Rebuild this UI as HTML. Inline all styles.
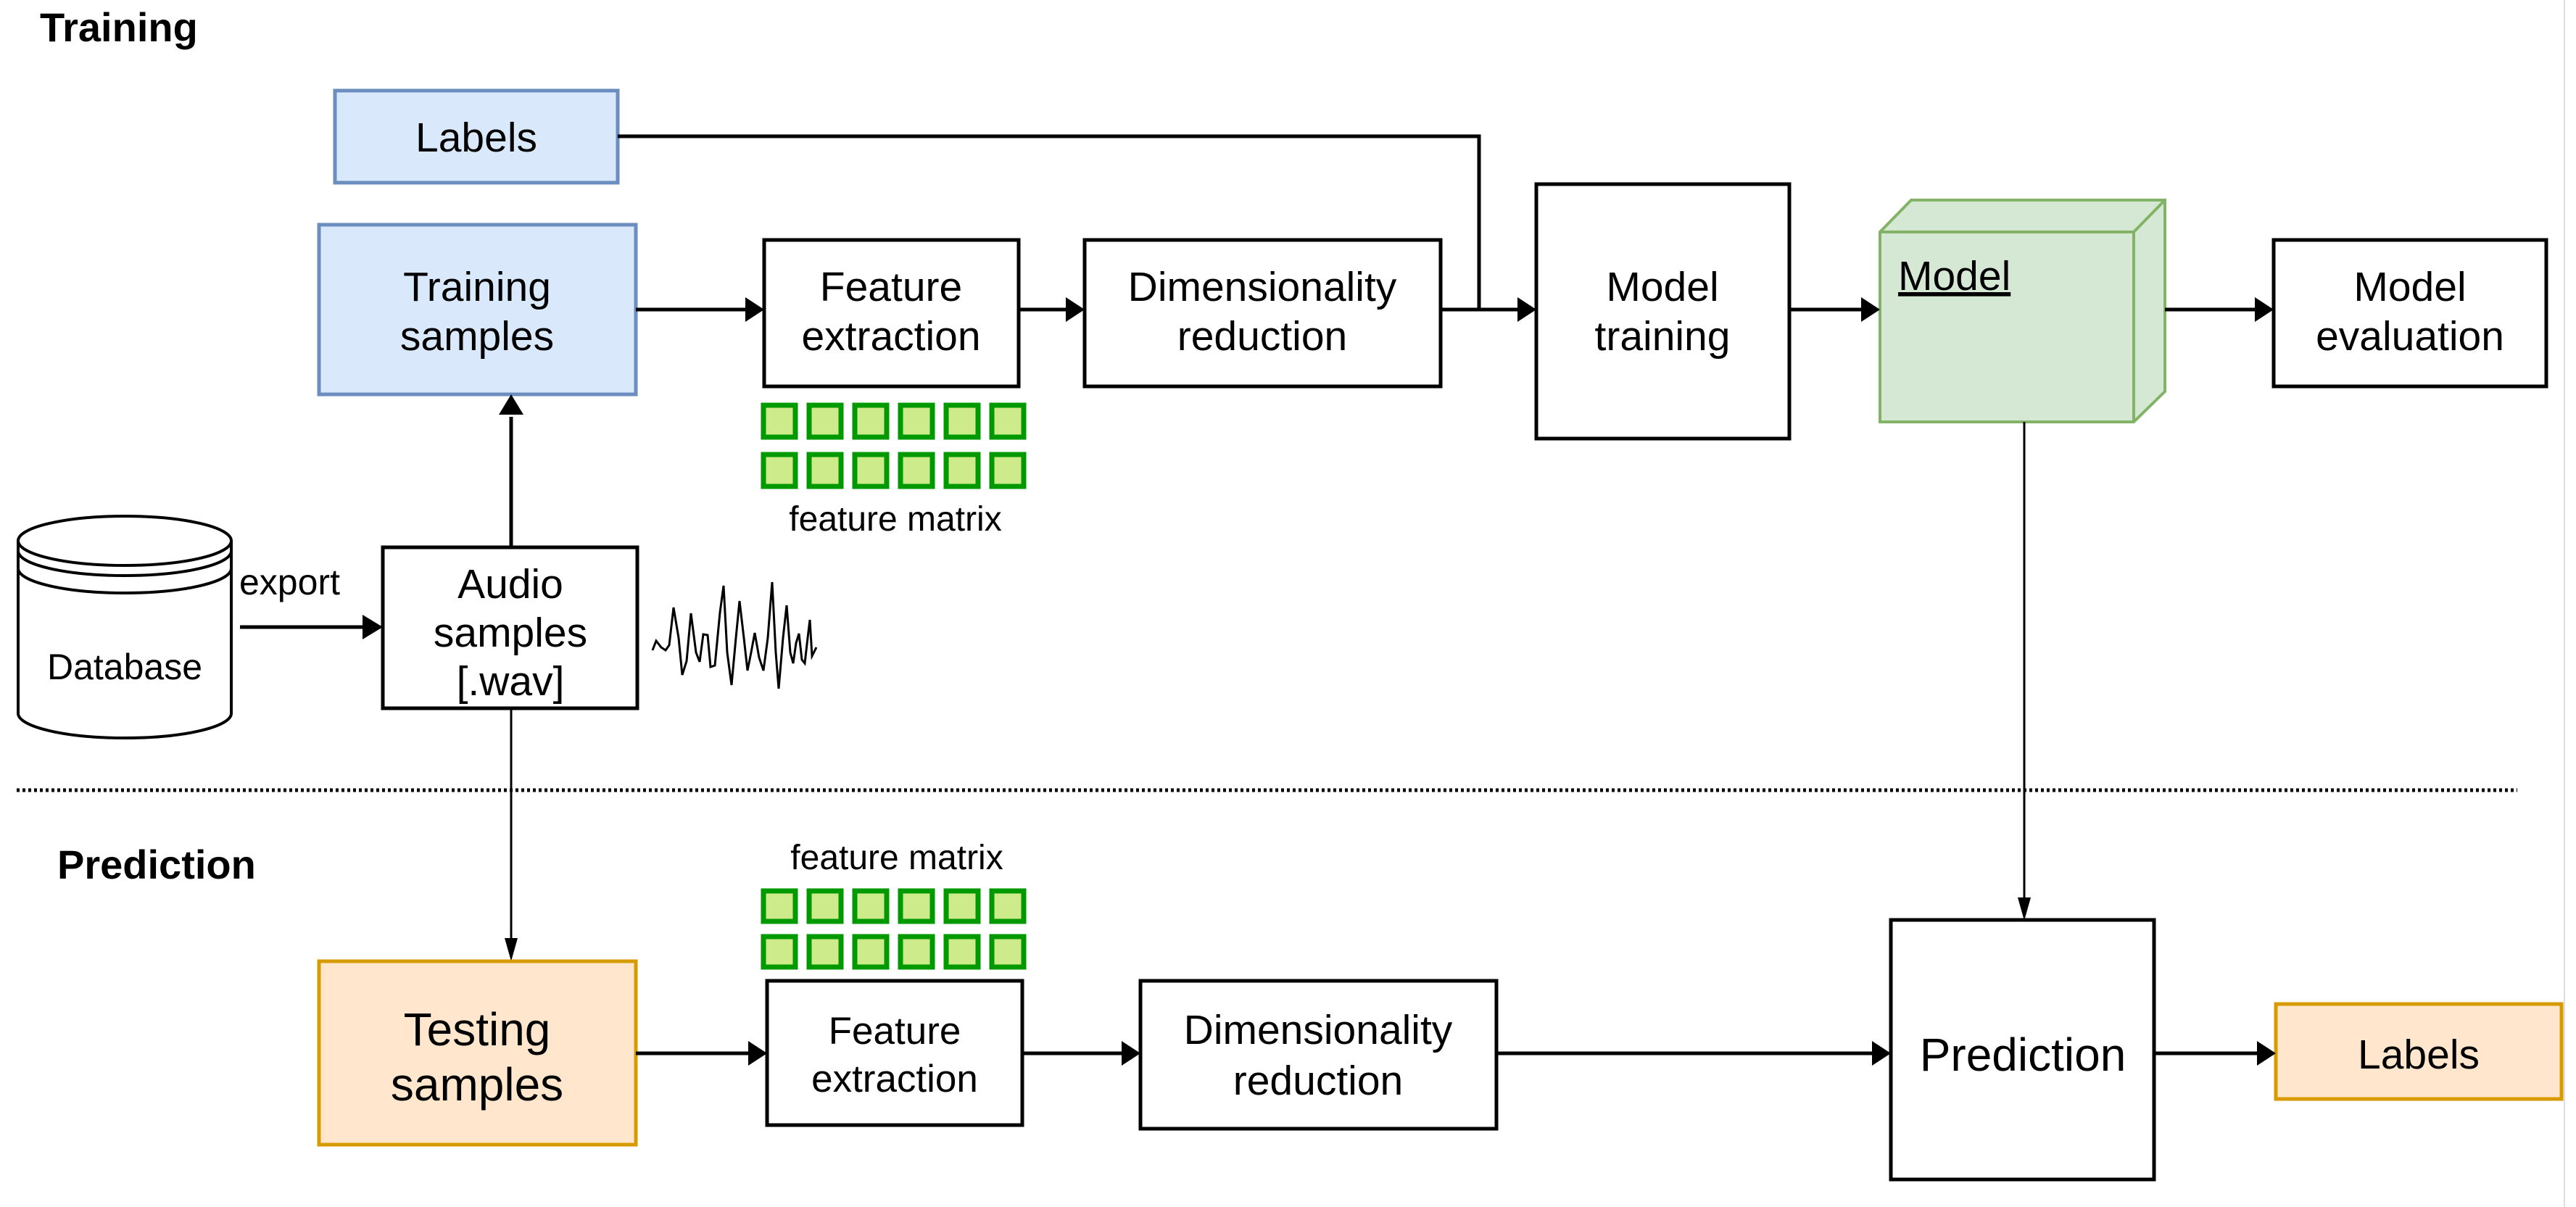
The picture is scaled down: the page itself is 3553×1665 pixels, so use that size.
<!DOCTYPE html>
<html><head><meta charset="utf-8"><style>
html,body{margin:0;padding:0;background:#fff;}
svg{display:block;}
text{font-family:"Liberation Sans",Arial,sans-serif;fill:#000;}
</style></head><body>
<svg width="3553" height="1665" viewBox="0 0 3553 1665" xmlns="http://www.w3.org/2000/svg">
<rect width="3553" height="1665" fill="#fff"/>
<line x1="3537" y1="0" x2="3537" y2="1665" stroke="#ddd" stroke-width="2"/>

<!-- titles -->
<text x="55" y="57" font-size="56" font-weight="bold">Training</text>
<text x="79" y="1212" font-size="56" font-weight="bold">Prediction</text>

<!-- Labels top -->
<rect x="462" y="125" width="390" height="127" fill="#dae8fc" stroke="#6c8ebf" stroke-width="5"/>
<text x="657" y="209" font-size="57" text-anchor="middle">Labels</text>

<!-- Training samples -->
<rect x="440" y="310" width="437" height="234" fill="#dae8fc" stroke="#6c8ebf" stroke-width="5"/>
<text x="658" y="415" font-size="57" text-anchor="middle">Training</text>
<text x="658" y="483" font-size="57" text-anchor="middle">samples</text>

<!-- Feature extraction top -->
<rect x="1054" y="331" width="351" height="202" fill="#fff" stroke="#000" stroke-width="5"/>
<text x="1229" y="415" font-size="57" text-anchor="middle">Feature</text>
<text x="1229" y="483" font-size="57" text-anchor="middle">extraction</text>

<!-- Dim red top -->
<rect x="1496" y="331" width="491" height="202" fill="#fff" stroke="#000" stroke-width="5"/>
<text x="1741" y="415" font-size="57" text-anchor="middle">Dimensionality</text>
<text x="1741" y="483" font-size="57" text-anchor="middle">reduction</text>

<!-- Model training -->
<rect x="2119" y="254" width="349" height="351" fill="#fff" stroke="#000" stroke-width="5"/>
<text x="2293" y="415" font-size="57" text-anchor="middle">Model</text>
<text x="2293" y="483" font-size="57" text-anchor="middle">training</text>

<!-- Model cube -->
<polygon points="2593,320 2636,276 2986,276 2986,540 2943,582 2593,582" fill="#d5e8d4" stroke="#82b366" stroke-width="4"/>
<polyline points="2593,320 2943,320 2986,276" fill="none" stroke="#82b366" stroke-width="4"/>
<line x1="2943" y1="320" x2="2943" y2="582" stroke="#82b366" stroke-width="4"/>
<text x="2618" y="400" font-size="57" text-decoration="underline">Model</text>

<!-- Model evaluation -->
<rect x="3136" y="331" width="376" height="202" fill="#fff" stroke="#000" stroke-width="5"/>
<text x="3324" y="415" font-size="57" text-anchor="middle">Model</text>
<text x="3324" y="483" font-size="57" text-anchor="middle">evaluation</text>

<!-- top arrows -->
<g stroke="#000" stroke-width="5" fill="none">
<line x1="877" y1="427" x2="1030" y2="427"/>
<line x1="1405" y1="427" x2="1472" y2="427"/>
<line x1="1987" y1="427" x2="2095" y2="427"/>
<polyline points="852,188 2040,188 2040,427"/>
<line x1="2468" y1="427" x2="2569" y2="427"/>
<line x1="2986" y1="427" x2="3112" y2="427"/>
<line x1="705" y1="755" x2="705" y2="575"/>
<line x1="331" y1="865" x2="505" y2="865"/>
</g>
<g fill="#000">
<polygon points="1054,427 1028,410 1028,444"/>
<polygon points="1496,427 1470,410 1470,444"/>
<polygon points="2119,427 2093,410 2093,444"/>
<polygon points="2593,427 2567,410 2567,444"/>
<polygon points="3136,427 3110,410 3110,444"/>
<polygon points="705,544 688,572 722,572"/>
<polygon points="528,865 500,848 500,882"/>
</g>

<!-- feature matrix top -->
<g fill="#cdeb8b" stroke="#009900" stroke-width="7">
<rect x="1053" y="559" width="44" height="44"/><rect x="1116" y="559" width="44" height="44"/><rect x="1179" y="559" width="44" height="44"/><rect x="1242" y="559" width="44" height="44"/><rect x="1305" y="559" width="44" height="44"/><rect x="1368" y="559" width="44" height="44"/>
<rect x="1053" y="627" width="44" height="44"/><rect x="1116" y="627" width="44" height="44"/><rect x="1179" y="627" width="44" height="44"/><rect x="1242" y="627" width="44" height="44"/><rect x="1305" y="627" width="44" height="44"/><rect x="1368" y="627" width="44" height="44"/>
</g>
<text x="1235" y="732" font-size="48" text-anchor="middle">feature matrix</text>

<!-- Database -->
<g fill="#fff" stroke="#000" stroke-width="4">
<path d="M25,746 L25,984 A147,34 0 0 0 319,984 L319,746"/>
<ellipse cx="172" cy="746" rx="147" ry="34"/>
<path d="M25,760 A147,34 0 0 0 319,760" fill="none"/>
<path d="M25,784 A147,34 0 0 0 319,784" fill="none"/>
</g>
<text x="172" y="937" font-size="50" text-anchor="middle">Database</text>
<text x="330" y="820" font-size="50">export</text>

<!-- Audio samples -->
<rect x="528" y="755" width="351" height="222" fill="#fff" stroke="#000" stroke-width="5"/>
<text x="704" y="825" font-size="57" text-anchor="middle">Audio</text>
<text x="704" y="892" font-size="57" text-anchor="middle">samples</text>
<text x="704" y="959" font-size="57" text-anchor="middle">[.wav]</text>

<!-- waveform -->
<polyline fill="none" stroke="#000" stroke-width="3" points="900,897 905,884 912,893 918,897 923,890 929,838 936,880 941,931 947,912 953,846 960,900 965,913 970,875 976,876 980,920 986,918 993,845 998,808 1003,900 1009,945 1015,880 1020,829 1026,880 1031,925 1036,900 1041,873 1047,907 1053,925 1059,880 1065,803 1070,900 1074,950 1080,880 1085,835 1090,900 1094,915 1098,887 1102,874 1106,910 1110,915 1114,880 1117,855 1120,905 1126,893"/>

<!-- dashed divider -->
<line x1="23" y1="1090" x2="3472" y2="1090" stroke="#000" stroke-width="5" stroke-dasharray="4,4"/>

<!-- vertical lines -->
<line x1="705" y1="977" x2="705" y2="1300" stroke="#000" stroke-width="3"/>
<polygon points="705,1326 696,1294 714,1294" fill="#000"/>
<line x1="2792" y1="582" x2="2792" y2="1245" stroke="#000" stroke-width="3"/>
<polygon points="2792,1270 2783,1238 2801,1238" fill="#000"/>

<!-- feature matrix bottom -->
<text x="1237" y="1199" font-size="48" text-anchor="middle">feature matrix</text>
<g fill="#cdeb8b" stroke="#009900" stroke-width="7">
<rect x="1053" y="1229" width="44" height="42"/><rect x="1116" y="1229" width="44" height="42"/><rect x="1179" y="1229" width="44" height="42"/><rect x="1242" y="1229" width="44" height="42"/><rect x="1305" y="1229" width="44" height="42"/><rect x="1368" y="1229" width="44" height="42"/>
<rect x="1053" y="1292" width="44" height="42"/><rect x="1116" y="1292" width="44" height="42"/><rect x="1179" y="1292" width="44" height="42"/><rect x="1242" y="1292" width="44" height="42"/><rect x="1305" y="1292" width="44" height="42"/><rect x="1368" y="1292" width="44" height="42"/>
</g>

<!-- Testing samples -->
<rect x="440" y="1326" width="437" height="253" fill="#ffe6cc" stroke="#d79b00" stroke-width="5"/>
<text x="658" y="1442" font-size="64" text-anchor="middle">Testing</text>
<text x="658" y="1518" font-size="64" text-anchor="middle">samples</text>

<!-- FE bottom -->
<rect x="1058" y="1353" width="352" height="199" fill="#fff" stroke="#000" stroke-width="5"/>
<text x="1234" y="1440" font-size="53" text-anchor="middle">Feature</text>
<text x="1234" y="1506" font-size="53" text-anchor="middle">extraction</text>

<!-- DR bottom -->
<rect x="1573" y="1353" width="491" height="204" fill="#fff" stroke="#000" stroke-width="5"/>
<text x="1818" y="1440" font-size="57" text-anchor="middle">Dimensionality</text>
<text x="1818" y="1510" font-size="57" text-anchor="middle">reduction</text>

<!-- Prediction -->
<rect x="2608" y="1269" width="363" height="358" fill="#fff" stroke="#000" stroke-width="5"/>
<text x="2790" y="1477" font-size="64" text-anchor="middle">Prediction</text>

<!-- Labels bottom -->
<rect x="3139" y="1385" width="394" height="131" fill="#ffe6cc" stroke="#d79b00" stroke-width="5"/>
<text x="3336" y="1474" font-size="57" text-anchor="middle">Labels</text>

<!-- bottom arrows -->
<g stroke="#000" stroke-width="5">
<line x1="877" y1="1453" x2="1034" y2="1453"/>
<line x1="1410" y1="1453" x2="1549" y2="1453"/>
<line x1="2064" y1="1453" x2="2584" y2="1453"/>
<line x1="2971" y1="1453" x2="3115" y2="1453"/>
</g>
<g fill="#000">
<polygon points="1058,1453 1032,1436 1032,1470"/>
<polygon points="1573,1453 1547,1436 1547,1470"/>
<polygon points="2608,1453 2582,1436 2582,1470"/>
<polygon points="3139,1453 3113,1436 3113,1470"/>
</g>
</svg>
</body></html>
